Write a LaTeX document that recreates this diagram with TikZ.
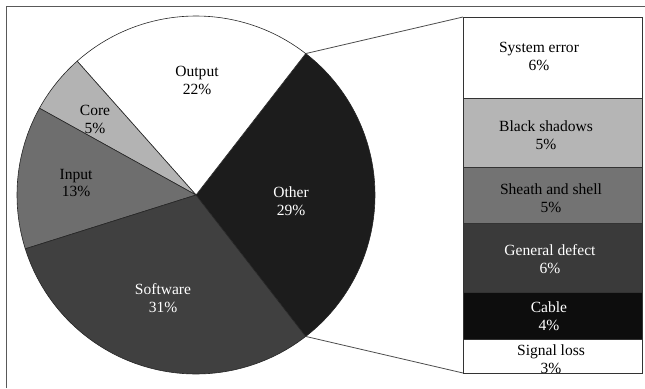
\documentclass[tikz,border=0pt]{standalone}
\usepackage{fontspec}
\setmainfont{Liberation Serif}
\usetikzlibrary{calc}
\begin{document}
\begin{tikzpicture}[x=1bp,y=1bp,
  lbl/.style={align=center,font=\fontsize{15.6}{18}\selectfont,inner sep=0pt},
  wlbl/.style={lbl,text=white},
  slice/.style={draw=black!85,line width=0.6pt},
  seg/.style={draw=black!80,line width=0.7pt},
  conn/.style={black!70,line width=0.8pt}]
\useasboundingbox (0,0) rectangle (645,388);
\definecolor{cCore}{HTML}{B3B3B3}
\definecolor{cInput}{HTML}{6E6E6E}
\definecolor{cSoft}{HTML}{404040}
\definecolor{cOther}{HTML}{1C1C1C}
\definecolor{bShadow}{HTML}{B5B5B5}
\definecolor{bSheath}{HTML}{737373}
\definecolor{bDefect}{HTML}{3A3A3A}
\definecolor{bCable}{HTML}{0D0D0D}
% frame
\draw[black!65,line width=0.9pt] (6,0) -- (6,382) -- (645,382);
% pie
\coordinate (c) at (196,193);
\def\R{179}
\filldraw[slice,fill=cOther] (c) -- ++(-52.2:\R) arc[start angle=-52.2,end angle=52.2,radius=\R] -- cycle;
\filldraw[slice,fill=white] (c) -- ++(52.2:\R) arc[start angle=52.2,end angle=131.6,radius=\R] -- cycle;
\filldraw[slice,fill=cCore] (c) -- ++(131.6:\R) arc[start angle=131.6,end angle=151,radius=\R] -- cycle;
\filldraw[slice,fill=cInput] (c) -- ++(151:\R) arc[start angle=151,end angle=197.5,radius=\R] -- cycle;
\filldraw[slice,fill=cSoft] (c) -- ++(197.5:\R) arc[start angle=197.5,end angle=307.8,radius=\R] -- cycle;
\coordinate (pTop) at ($(c)+(52.2:\R)$);
\coordinate (pBot) at ($(c)+(-52.2:\R)$);
% labels pie
\node[lbl] (lOut) at (197,308) {Output\\22\%};
\node[lbl] (lCore) at (95,269) {Core\\5\%};
\node[lbl] (lIn) at (76,205) {Input\\13\%};
\node[wlbl] (lOther) at (291,187) {Other\\29\%};
\node[wlbl] (lSoft) at (163,90) {Software\\31\%};
% bar
\coordinate (b0) at (463,371);
\coordinate (b1) at (463,290);
\coordinate (b2) at (463,221);
\coordinate (b3) at (463,165);
\coordinate (b4) at (463,96);
\coordinate (b5) at (463,49);
\coordinate (b6) at (463,15);
\filldraw[seg,fill=white] (b0) rectangle (642,290);
\filldraw[seg,fill=bShadow] (b1) rectangle (642,221);
\filldraw[seg,fill=bSheath] (b2) rectangle (642,165);
\filldraw[seg,fill=bDefect] (b3) rectangle (642,96);
\filldraw[seg,fill=bCable] (b4) rectangle (642,49);
\filldraw[seg,fill=white] (b5) rectangle (642,15);
\node[lbl] (tSys) at (539,332) {System error\\6\%};
\node[lbl] (tBlk) at (546,253) {Black shadows\\5\%};
\node[lbl] (tSh) at (551,190) {Sheath and shell\\5\%};
\node[wlbl] (tGen) at (550,129) {General defect\\6\%};
\node[wlbl] (tCab) at (549,72) {Cable\\4\%};
\begin{scope}
\clip (463,15) rectangle (642,49);
\node[lbl] (tSig) at (551,29) {Signal loss\\3\%};
\end{scope}
\draw[seg] (b5) rectangle (642,15);
% connectors
\draw[conn] (pTop) -- (b0);
\draw[conn] (pBot) -- (b6);
\end{tikzpicture}
\end{document}
